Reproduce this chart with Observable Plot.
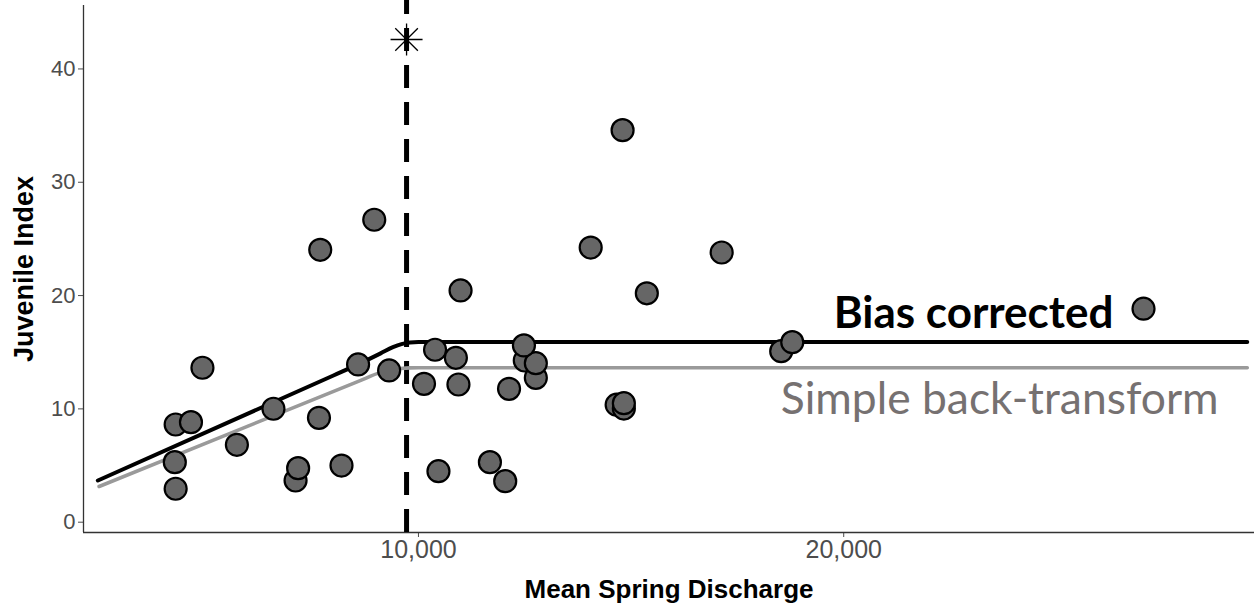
<!DOCTYPE html>
<html>
<head>
<meta charset="utf-8">
<script src="https://cdn.jsdelivr.net/npm/d3@7"></script>
<script src="https://cdn.jsdelivr.net/npm/@observablehq/plot@0.6"></script>
<style>
  body { margin: 0; background: #fff; }
  #chart svg { display: block; }
</style>
</head>
<body>
<div id="chart"></div>
<script>
// ---- data ----
const discharge = [4920, 4290, 4650, 4270, 4290, 5730, 6590, 7660, 7110, 7170, 8190, 8580, 9310, 7690, 8960,
  10390, 10880, 10130, 10940, 12130, 12500, 12760, 12760, 12480, 10470, 11680, 12040, 10990,
  14050, 14800, 17130, 15370, 14660, 14830, 14830, 18530, 18790, 27050];
const juvenile = [13.63, 8.62, 8.83, 5.30, 2.95, 6.83, 10.01, 9.21, 3.68, 4.77, 5.0, 13.92, 13.39, 24.04, 26.69,
  15.22, 14.51, 12.21, 12.15, 11.77, 14.27, 12.74, 14.03, 15.6, 4.5, 5.3, 3.62, 20.45,
  24.24, 34.6, 23.8, 20.2, 10.37, 10.03, 10.5, 15.09, 15.89, 18.84];

const biasX = [2460, 8000, 8580, 9110, 9400, 9600, 9800, 10000, 20000, 29490];
const biasY = [3.68, 12.95, 13.93, 14.9, 15.45, 15.72, 15.86, 15.9, 15.9, 15.9];
const simpleX = [2490, 8600, 9110, 9350, 9580, 9800, 10000, 20000, 29490];
const simpleY = [3.15, 12.45, 13.22, 13.45, 13.56, 13.62, 13.63, 13.63, 13.63];

const breakpointX = [9720];
const asteriskY = [42.6];

const labelText = ["Bias corrected", "Simple back-transform"];
const labelX = [19765, 18520];
const labelY = [17.18, 9.57];

const xTicks = [10000, 20000];
const yTicks = [0, 10, 20, 30, 40];
const xDomain = [2123, 29660];
const yDomain = [-0.91, 45.6];

// ---- build tables ----
const points = discharge.map((x, i) => ({x, y: juvenile[i]}));
const biasLine = biasX.map((x, i) => ({x, y: biasY[i]}));
const simpleLine = simpleX.map((x, i) => ({x, y: simpleY[i]}));
const labels = labelText.map((t, i) => ({t, x: labelX[i], y: labelY[i]}));
const star = breakpointX.map((x, i) => ({x, y: asteriskY[i]}));

const asterisk8 = {
  draw(ctx, size) {
    const r = Math.sqrt(size / Math.PI);
    for (let i = 0; i < 4; i++) {
      const a = i * Math.PI / 4;
      ctx.moveTo(-r * Math.cos(a), -r * Math.sin(a));
      ctx.lineTo(r * Math.cos(a), r * Math.sin(a));
    }
  }
};

const tickFont = "Liberation Sans, Arial, sans-serif";

const chart = Plot.plot({
  width: 1254,
  height: 613,
  marginLeft: 83,
  marginRight: 0,
  marginTop: 5,
  marginBottom: 81,
  style: {fontFamily: tickFont, fontSize: "22px", background: "#fff"},
  x: {domain: xDomain},
  y: {domain: yDomain},
  marks: [
    Plot.axisY(yTicks, {tickSize: 5, tickPadding: 3, fontSize: 22, color: "#4d4d4d", label: null}),
    Plot.axisX(xTicks, {tickSize: 5, tickPadding: 3, fontSize: 25, color: "#4d4d4d", label: null, tickFormat: d3.format(",")}),
    Plot.ruleX([xDomain[0]], {stroke: "#333", strokeWidth: 1.3}),
    Plot.ruleY([yDomain[0]], {stroke: "#333", strokeWidth: 1.3}),
    Plot.ruleX(breakpointX, {y1: yDomain[0], y2: 46.1, stroke: "black", strokeWidth: 5, strokeDasharray: "23,14"}),
    Plot.line(simpleLine, {x: "x", y: "y", stroke: "#9a9a9a", strokeWidth: 3.6, curve: "monotone-x"}),
    Plot.line(biasLine, {x: "x", y: "y", stroke: "black", strokeWidth: 4, curve: "monotone-x"}),
    Plot.dot(points, {x: "x", y: "y", r: 11, fill: "#666666", stroke: "black", strokeWidth: 2.2}),
    Plot.dot(star, {x: "x", y: "y", r: 16, symbol: asterisk8, fill: "none", stroke: "black", strokeWidth: 1.3}),
    Plot.text(labels.slice(0, 1), {x: "x", y: "y", text: "t", textAnchor: "start", lineAnchor: "bottom",
      fontFamily: "Lato, Calibri, sans-serif", fontWeight: "bold", fontSize: 44, fill: "black"}),
    Plot.text(labels.slice(1), {x: "x", y: "y", text: "t", textAnchor: "start", lineAnchor: "bottom",
      fontFamily: "Lato, Calibri, sans-serif", fontSize: 44.4, fill: "#767171"}),
    Plot.text(["Juvenile Index"], {text: d => d, frameAnchor: "left", dx: -59, rotate: -90,
      textAnchor: "middle", lineAnchor: "middle",
      fontFamily: tickFont, fontWeight: "bold", fontSize: 27, fill: "black"}),
    Plot.text(["Mean Spring Discharge"], {text: d => d, frameAnchor: "bottom", dy: 65,
      textAnchor: "middle", lineAnchor: "bottom",
      fontFamily: tickFont, fontWeight: "bold", fontSize: 26, fill: "black"})
  ]
});

document.getElementById("chart").appendChild(chart);
</script>
</body>
</html>
